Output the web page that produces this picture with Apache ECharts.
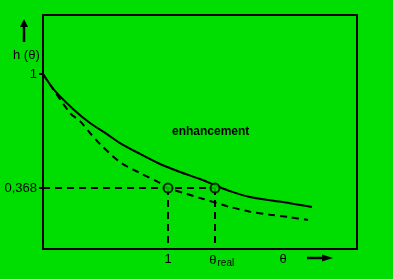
<!DOCTYPE html>
<html>
<head>
<meta charset="utf-8">
<script src="https://cdn.jsdelivr.net/npm/echarts@6/dist/echarts.min.js"></script>
<style>
  html, body { margin: 0; padding: 0; background: #00dd00; }
  #chart { width: 393px; height: 279px; }
</style>
</head>
<body>
<div id="chart"></div>
<script>
// (x in units of theta, y = h(theta))
const enhancedX = [0, 0.096, 0.24, 0.376, 0.512, 0.616, 0.776, 0.936, 1.096, 1.256, 1.392, 1.496, 1.656, 1.816, 1.976, 2.152]
const enhancedY = [1, 0.906, 0.806, 0.728, 0.667, 0.617, 0.557, 0.501, 0.457, 0.418, 0.379, 0.351, 0.318, 0.3, 0.284, 0.263]
const plainX = [0, 0.216, 0.296, 0.376, 0.456, 0.616, 0.776, 0.936, 1.0, 1.152, 1.256, 1.496, 1.656, 1.816, 1.976, 2.12]
const plainY = [1, 0.784, 0.739, 0.673, 0.612, 0.512, 0.451, 0.396, 0.368, 0.335, 0.313, 0.263, 0.237, 0.22, 0.206, 0.191]
const markX = [1, 1.376]
const markY = 0.368
const yTicks = [1, 0.368]
const xLabels = ["1", "θreal", "θ"]
const xLabelPos = [1, 1.43, 1.92]

const chart = echarts.init(document.getElementById("chart"))
const font = "Liberation Sans, Arial, sans-serif"

const zip = (xs, ys) => xs.map((x, i) => [x, ys[i]])

const option = {
  backgroundColor: "#00dd00",
  animation: false,
  grid: {
    left: 43,
    top: 15,
    right: 36,
    bottom: 30,
    show: true,
    borderColor: "#000",
    borderWidth: 2,
  },
  xAxis: {
    type: "value",
    min: 0,
    max: 2.512,
    axisLine: { show: false },
    axisTick: { show: false },
    splitLine: { show: false },
    axisLabel: {
      customValues: xLabelPos,
      margin: 4,
      fontFamily: font,
      fontSize: 13,
      color: "#000",
      formatter: (v) => {
        const i = xLabelPos.indexOf(v)
        if (i === 1) return "{t|θ}{s|real}"
        return "{t|" + xLabels[i] + "}"
      },
      rich: {
        t: { fontSize: 13, fontFamily: font, color: "#000" },
        s: { fontSize: 10, fontFamily: font, color: "#000", padding: [5, 0, 0, 1] },
      },
    },
  },
  yAxis: {
    type: "value",
    min: 0.03,
    max: 1.327,
    axisLine: { show: false },
    splitLine: { show: false },
    axisTick: {
      show: true,
      customValues: yTicks,
      length: 4,
      lineStyle: { color: "#000", width: 2 },
    },
    axisLabel: {
      customValues: yTicks,
      margin: 6,
      fontFamily: font,
      fontSize: 13,
      color: "#000",
      formatter: (v) => (v === 1 ? "1" : String(v).replace(".", ",")),
    },
  },
  graphic: [
    { type: "line", shape: { x1: 24, y1: 42, x2: 24, y2: 24 }, style: { stroke: "#000", lineWidth: 2.5 } },
    { type: "polygon", shape: { points: [[20, 27], [28, 27], [24, 19]] }, style: { fill: "#000" } },
    { type: "text", left: 13, top: 49, style: { text: "h (θ)", font: "13px " + font, fill: "#000" } },
    { type: "line", shape: { x1: 307, y1: 258, x2: 326, y2: 258 }, style: { stroke: "#000", lineWidth: 2.5 } },
    { type: "polygon", shape: { points: [[322, 254.5], [322, 261.5], [333, 258]] }, style: { fill: "#000" } },
    { type: "text", left: 172, top: 126, style: { text: "enhancement", font: "bold 12px " + font, fill: "#000" } },
  ],
  series: [
    {
      type: "line",
      data: zip(enhancedX, enhancedY),
      smooth: 0.3,
      symbol: "none",
      lineStyle: { color: "#000", width: 2 },
      z: 3,
    },
    {
      type: "line",
      data: zip(plainX, plainY),
      smooth: 0.3,
      symbol: "none",
      lineStyle: { color: "#000", width: 2, type: [7, 5] },
      z: 3,
      markLine: {
        silent: true,
        symbol: "none",
        label: { show: false },
        lineStyle: { color: "#000", width: 2, type: [7, 5] },
        data: [
          [{ coord: [0, markY] }, { coord: [markX[1], markY] }],
          [{ coord: [markX[0], markY] }, { coord: [markX[0], 0.03] }],
          [{ coord: [markX[1], markY] }, { coord: [markX[1], 0.03] }],
        ],
      },
    },
    {
      type: "scatter",
      data: markX.map((x) => [x, markY]),
      symbol: "circle",
      symbolSize: 9,
      itemStyle: { color: "#00dd00", borderColor: "#000", borderWidth: 2 },
      z: 5,
    },
  ],
}

chart.setOption(option)
</script>
</body>
</html>
